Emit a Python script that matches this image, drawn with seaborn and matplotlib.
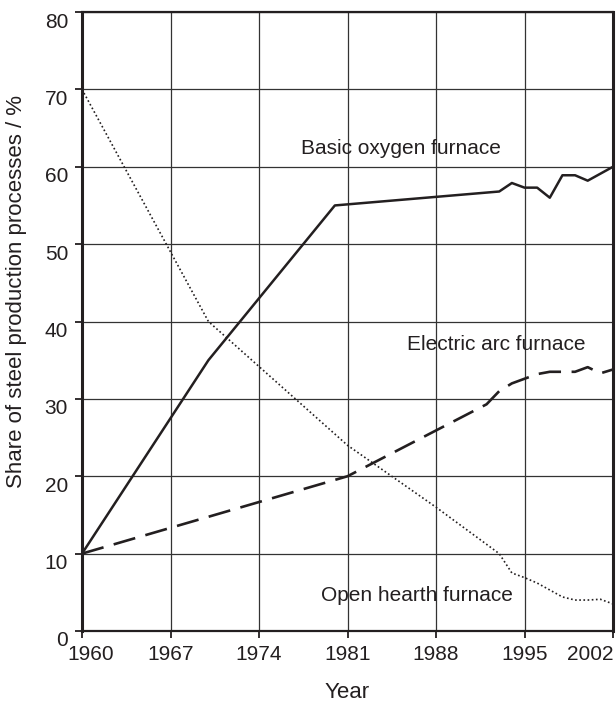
import numpy as np
import pandas as pd
import matplotlib
matplotlib.use("Agg")
import matplotlib.pyplot as plt
import matplotlib.transforms as mtransforms
import seaborn as sns

# data
bof_year = [1960, 1970, 1980, 1993, 1994, 1995, 1996, 1997, 1998, 1999, 2000, 2001, 2002]
bof_share = [10, 35, 55, 56.8, 57.9, 57.3, 57.3, 56.0, 58.9, 58.9, 58.2, 59.1, 60.0]

eaf_year = [1960, 1981, 1992, 1993, 1994, 1995, 1996, 1997, 1998, 1999, 2000, 2001, 2002]
eaf_share = [10, 20, 29.3, 31.0, 32.0, 32.6, 33.2, 33.5, 33.5, 33.5, 34.1, 33.3, 33.8]

ohf_year = [1960, 1970, 1981, 1988, 1993, 1994, 1995, 1996, 1997, 1998, 1999, 2000, 2001, 2002]
ohf_share = [70, 40, 24.0, 16.0, 10.0, 7.5, 6.9, 6.2, 5.3, 4.4, 4.0, 4.0, 4.1, 3.5]

x_ticks = [1960, 1967, 1974, 1981, 1988, 1995, 2002]
y_ticks = [0, 10, 20, 30, 40, 50, 60, 70, 80]

ink = "#231f20"

sns.set_style("white")
plt.rcParams["font.family"] = ["Liberation Sans", "DejaVu Sans"]

fig = plt.figure(figsize=(6.16, 7.02), dpi=100)
ax = fig.add_axes([82 / 616, 1 - 631 / 702, (613 - 82) / 616, (631 - 12) / 702])

bof = pd.DataFrame({"year": bof_year, "share": bof_share})
eaf = pd.DataFrame({"year": eaf_year, "share": eaf_share})
ohf = pd.DataFrame({"year": ohf_year, "share": ohf_share})

sns.lineplot(data=bof, x="year", y="share", ax=ax, color=ink, lw=1.8, zorder=3)
sns.lineplot(data=eaf, x="year", y="share", ax=ax, color=ink, lw=1.9,
             linestyle=(0, (8.5, 4)), zorder=3)
sns.lineplot(data=ohf, x="year", y="share", ax=ax, color=ink, lw=1.2,
             linestyle=(0, (1, 1.5)), zorder=3)

ax.set_xlim(1960, 2002)
ax.set_ylim(0, 80)
ax.set_xticks(x_ticks)
ax.set_yticks(y_ticks)
ax.grid(True, color="#333333", lw=0.9)
ax.set_axisbelow(True)

for side in ["left", "right"]:
    ax.spines[side].set_linewidth(2.2)
for side in ["top", "bottom"]:
    ax.spines[side].set_linewidth(1.6)
for sp in ax.spines.values():
    sp.set_color(ink)
    sp.set_visible(True)

ax.tick_params(axis="both", direction="out", length=5, width=1.3, color=ink,
               labelsize=15, labelcolor=ink, pad=5, bottom=True, left=True)

# y labels sit a bit low in the reference, first/last x labels are nudged inward
off = mtransforms.ScaledTranslation(0, -8 / 100, fig.dpi_scale_trans)
for lab in ax.get_yticklabels():
    lab.set_transform(lab.get_transform() + off)
xl = ax.get_xticklabels()
xl[0].set_transform(xl[0].get_transform() + mtransforms.ScaledTranslation(9 / 100, 0, fig.dpi_scale_trans))
xl[-1].set_horizontalalignment("right")

ax.set_xlabel("Year", fontsize=16, color=ink, labelpad=13)
ax.set_ylabel("Share of steel production processes / %", fontsize=16, color=ink)
ax.yaxis.set_label_coords(-0.104, 0.548)

ax.text(1977.3, 61.7, "Basic oxygen furnace", fontsize=15, color=ink, va="baseline")
ax.text(1985.7, 36.3, "Electric arc furnace", fontsize=15, color=ink, va="baseline")
ax.text(1978.9, 3.9, "Open hearth furnace", fontsize=15, color=ink, va="baseline")

fig.savefig("out.png", dpi=100)
